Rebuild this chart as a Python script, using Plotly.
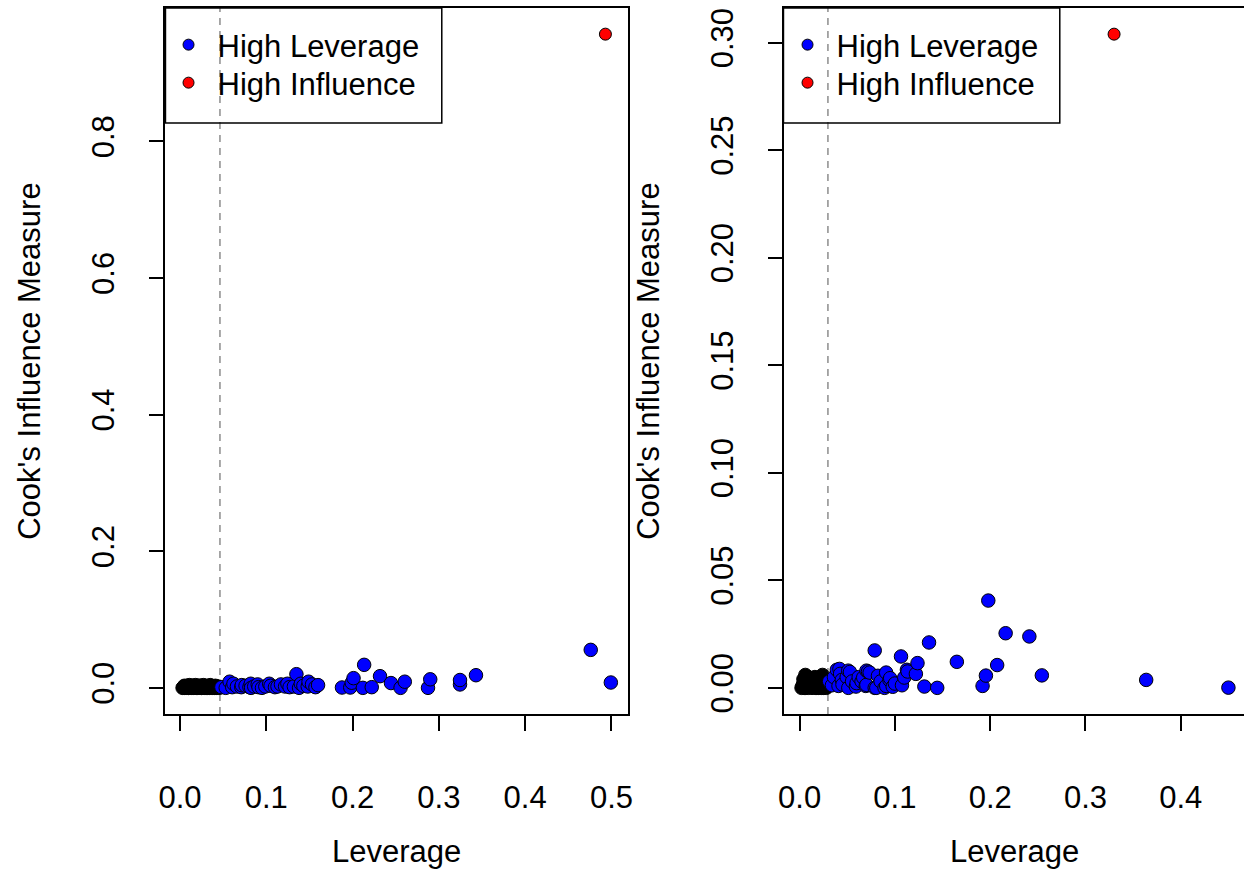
import plotly.graph_objects as go

# ---------------- data: panel 1 ----------------
p1_black_lev = [0.003, 0.004, 0.005, 0.006, 0.007, 0.008, 0.009, 0.010, 0.011, 0.012,
                0.013, 0.014, 0.015, 0.016, 0.017, 0.018, 0.019, 0.020, 0.021, 0.022,
                0.023, 0.024, 0.025, 0.026, 0.027, 0.028, 0.029, 0.030, 0.031, 0.032,
                0.033, 0.034, 0.035, 0.036, 0.037, 0.038, 0.039, 0.040, 0.041, 0.042,
                0.043, 0.044, 0.045, 0.005, 0.008, 0.012, 0.015, 0.018, 0.022, 0.025,
                0.028, 0.032, 0.035, 0.038, 0.041, 0.010, 0.020, 0.030]
p1_black_cook = [0.000, 0.001, 0.000, 0.002, 0.000, 0.003, 0.001, 0.000, 0.004, 0.001,
                 0.000, 0.002, 0.003, 0.000, 0.001, 0.004, 0.000, 0.002, 0.001, 0.000,
                 0.003, 0.001, 0.000, 0.002, 0.004, 0.000, 0.001, 0.003, 0.000, 0.002,
                 0.001, 0.000, 0.004, 0.001, 0.000, 0.002, 0.001, 0.000, 0.003, 0.000,
                 0.001, 0.002, 0.000, 0.003, 0.000, 0.002, 0.000, 0.001, 0.003, 0.000,
                 0.002, 0.000, 0.001, 0.000, 0.001, 0.000, 0.000, 0.000]
p1_blue_lev = [0.048, 0.053, 0.0575, 0.0605, 0.062, 0.066, 0.071, 0.0716, 0.076, 0.0805,
               0.082, 0.0824, 0.086, 0.090, 0.091, 0.095, 0.0989, 0.1034, 0.105, 0.110,
               0.113, 0.117, 0.1218, 0.1245, 0.127, 0.132, 0.1349, 0.138, 0.140, 0.143,
               0.148, 0.149, 0.153, 0.157, 0.160, 0.1877, 0.1973, 0.199, 0.2011, 0.2119,
               0.2134, 0.2222, 0.2318, 0.2445, 0.2556, 0.2605, 0.2874, 0.290, 0.3245, 0.3245,
               0.343, 0.476, 0.4993]
p1_blue_cook = [0.001, 0.000, 0.009, 0.001, 0.006, 0.002, 0.001, 0.004, 0.003, 0.001,
                0.006, 0.000, 0.002, 0.005, 0.001, 0.000, 0.002, 0.006, 0.003, 0.001,
                0.002, 0.005, 0.002, 0.006, 0.001, 0.002, 0.020, 0.000, 0.006, 0.003,
                0.002, 0.009, 0.005, 0.001, 0.004, 0.0005, 0.0005, 0.0075, 0.0142, 0.000,
                0.0337, 0.001, 0.0171, 0.007, 0.000, 0.009, 0.000, 0.0125, 0.005, 0.0115,
                0.0185, 0.0556, 0.0078]
p1_red_lev = [0.493]
p1_red_cook = [0.957]
p1_cutoff = 0.0463

# ---------------- data: panel 2 ----------------
p2_black_lev = [0.002, 0.003, 0.004, 0.005, 0.006, 0.007, 0.008, 0.009, 0.010, 0.011,
                0.012, 0.013, 0.014, 0.015, 0.016, 0.017, 0.018, 0.019, 0.020, 0.021,
                0.022, 0.023, 0.024, 0.025, 0.026, 0.027, 0.028, 0.004, 0.006, 0.009,
                0.012, 0.015, 0.018, 0.021, 0.024, 0.027, 0.005, 0.016, 0.023]
p2_black_cook = [0.000, 0.001, 0.002, 0.000, 0.006, 0.001, 0.003, 0.000, 0.002, 0.001,
                 0.004, 0.000, 0.002, 0.001, 0.005, 0.000, 0.003, 0.001, 0.000, 0.002,
                 0.004, 0.001, 0.006, 0.000, 0.002, 0.001, 0.000, 0.004, 0.000, 0.005,
                 0.001, 0.003, 0.000, 0.004, 0.002, 0.003, 0.003, 0.002, 0.000]
p2_blue_lev = [0.031, 0.0339, 0.036, 0.039, 0.0408, 0.0418, 0.0425, 0.0443, 0.045, 0.0494,
               0.051, 0.0511, 0.0528, 0.055, 0.0591, 0.0598, 0.062, 0.065, 0.0667, 0.0694,
               0.0701, 0.0701, 0.0718, 0.0735, 0.0788, 0.0788, 0.0805, 0.0822, 0.085, 0.0891,
               0.0908, 0.0909, 0.0943, 0.095, 0.0977, 0.100, 0.1064, 0.1074, 0.1098, 0.1126,
               0.1133, 0.122, 0.1237, 0.1309, 0.1358, 0.1444, 0.165, 0.192, 0.1955, 0.198,
               0.2073, 0.2162, 0.2411, 0.2542, 0.3637, 0.450]
p2_blue_cook = [0.003, 0.0012, 0.005, 0.0084, 0.0009, 0.0088, 0.0065, 0.0037, 0.0015, 0.005,
                0.008, 0.000, 0.0074, 0.003, 0.0006, 0.0022, 0.005, 0.003, 0.0048, 0.0009,
                0.0014, 0.008, 0.0076, 0.0071, 0.0174, 0.000, 0.000, 0.0056, 0.003, 0.000,
                0.0071, 0.0009, 0.0036, 0.0045, 0.0005, 0.002, 0.0146, 0.0012, 0.0048, 0.0084,
                0.0076, 0.0065, 0.0115, 0.0006, 0.0211, 0.000, 0.0121, 0.0009, 0.0057, 0.0406,
                0.0106, 0.0254, 0.0239, 0.0058, 0.0037, 0.0001]
p2_red_lev = [0.330]
p2_red_cook = [0.304]
p2_cutoff = 0.0297

# ---------------- axes ticks / labels ----------------
p1_xticks = [0.0, 0.1, 0.2, 0.3, 0.4, 0.5]
p1_yticks = [0.0, 0.2, 0.4, 0.6, 0.8]
p2_xticks = [0.0, 0.1, 0.2, 0.3, 0.4]
p2_yticks = [0.00, 0.05, 0.10, 0.15, 0.20, 0.25, 0.30]
x_title = "Leverage"
y_title = "Cook's Influence Measure"
legend_labels = ["High Leverage", "High Influence"]
legend_colors = ["blue", "red"]

# ---------------- layout geometry (pixels) ----------------
W, H = 1249, 871
FONT = "Liberation Sans, Arial, Helvetica, sans-serif"
FS = 31
p1_box = (160, 627)
p2_box = (785, 1249)
box_top, box_bottom = 8, 714
legend_row_centres = [47, 85]


def px_x(p):
    return p / W


def px_y(p):
    return (H - p) / H


fig = go.Figure()

MS = 13.5
edge = dict(color="black", width=1)
legend_ids = {("x", 0): "legend", ("x", 1): "legend3",
              ("x2", 0): "legend2", ("x2", 1): "legend4"}


def add_panel(xa, ya, blx, bly, bux, buy, rx, ry):
    fig.add_trace(go.Scatter(x=blx, y=bly, mode="markers", xaxis=xa, yaxis=ya,
                             marker=dict(size=MS, color="black", line=edge),
                             showlegend=False, hoverinfo="skip"))
    fig.add_trace(go.Scatter(x=bux, y=buy, mode="markers", xaxis=xa, yaxis=ya,
                             marker=dict(size=MS, color="blue", line=edge),
                             showlegend=False))
    fig.add_trace(go.Scatter(x=rx, y=ry, mode="markers", xaxis=xa, yaxis=ya,
                             marker=dict(size=12, color="red", line=edge),
                             showlegend=False))
    for i, (lab, col) in enumerate(zip(legend_labels, legend_colors)):
        fig.add_trace(go.Scatter(x=[None], y=[None], mode="markers", xaxis=xa, yaxis=ya,
                                 name=lab, legend=legend_ids[(xa, i)],
                                 marker=dict(size=11, color=col, line=edge)))


add_panel("x", "y", p1_black_lev, p1_black_cook, p1_blue_lev, p1_blue_cook,
          p1_red_lev, p1_red_cook)
add_panel("x2", "y2", p2_black_lev, p2_black_cook, p2_blue_lev, p2_blue_cook,
          p2_red_lev, p2_red_cook)

# cutoff lines
for xa, yd, cut in [("x", "y domain", p1_cutoff), ("x2", "y2 domain", p2_cutoff)]:
    fig.add_shape(type="line", xref=xa, yref=yd, x0=cut, x1=cut, y0=0, y1=1, layer="below",
                  line=dict(color="#8c8c8c", width=1.5, dash="7px,6px"))


# axis ranges following R's 4% extension
def ext(lo, hi):
    r = hi - lo
    return [lo - 0.04 * r, hi + 0.04 * r]


p1_xr = ext(min(p1_black_lev), max(p1_blue_lev))
p1_yr = ext(0.0, max(p1_red_cook))
p2_xr_full = ext(min(p2_black_lev), max(p2_blue_lev))
# the right panel is cut at the window edge
p2_xr = [p2_xr_full[0],
         p2_xr_full[0] + (p2_xr_full[1] - p2_xr_full[0]) * (p2_box[1] - p2_box[0]) / (1250.5 - p2_box[0])]
p2_yr = ext(0.0, max(p2_red_cook))

common_axis = dict(showline=True, linecolor="black", linewidth=1.5, ticks="outside",
                   ticklen=15, tickwidth=1.5, tickcolor="black", showgrid=False,
                   zeroline=False, tickfont=dict(family=FONT, size=FS, color="black"))

legend_common = dict(xanchor="left", yanchor="top", bgcolor="rgba(0,0,0,0)", borderwidth=0,
                     itemwidth=48, font=dict(family=FONT, size=FS, color="black"))

fig.update_layout(
    width=W, height=H,
    margin=dict(l=0, r=0, t=0, b=0),
    paper_bgcolor="white", plot_bgcolor="white",
    font=dict(family=FONT, size=FS, color="black"),
    xaxis=dict(domain=[px_x(p1_box[0]), px_x(p1_box[1])], range=p1_xr, mirror=True,
               tickvals=p1_xticks, ticktext=[f"{v:.1f}" for v in p1_xticks],
               ticklabelstandoff=40, anchor="y", **common_axis),
    yaxis=dict(domain=[px_y(box_bottom), px_y(box_top)], range=p1_yr, mirror=True,
               tickvals=p1_yticks, ticktext=[f"{v:.1f}" for v in p1_yticks],
               tickangle=-90, ticklabelstandoff=22, anchor="x", **common_axis),
    xaxis2=dict(domain=[px_x(p2_box[0]), 1.0], range=p2_xr, mirror=True,
                tickvals=p2_xticks, ticktext=[f"{v:.1f}" for v in p2_xticks],
                ticklabelstandoff=40, anchor="y2", **common_axis),
    yaxis2=dict(domain=[px_y(box_bottom), px_y(box_top)], range=p2_yr, mirror=False,
                tickvals=p2_yticks, ticktext=[f"{v:.2f}" for v in p2_yticks],
                tickangle=-90, ticklabelstandoff=22, anchor="x2", **common_axis),
    legend=dict(x=px_x(p1_box[0] - 6), y=px_y(legend_row_centres[0] - 29), **legend_common),
    legend3=dict(x=px_x(p1_box[0] - 6), y=px_y(legend_row_centres[1] - 29), **legend_common),
    legend2=dict(x=px_x(p2_box[0] - 6), y=px_y(legend_row_centres[0] - 29), **legend_common),
    legend4=dict(x=px_x(p2_box[0] - 6), y=px_y(legend_row_centres[1] - 29), **legend_common),
    hovermode="closest",
)

# legend frames
for x0, x1 in [(160, 439), (784, 1063)]:
    fig.add_shape(type="rect", xref="paper", yref="paper",
                  x0=px_x(x0), x1=px_x(x1), y0=px_y(123), y1=px_y(box_top),
                  line=dict(color="black", width=1.5), fillcolor="rgba(0,0,0,0)", layer="above")

# axis titles
for cx in [(p1_box[0] + p1_box[1]) / 2, (p2_box[0] + 1250) / 2]:
    fig.add_annotation(text=x_title, xref="paper", yref="paper", x=px_x(cx), y=px_y(851),
                       showarrow=False, xanchor="center", yanchor="middle",
                       font=dict(family=FONT, size=FS, color="black"))
for cx in [22, 647]:
    fig.add_annotation(text=y_title, xref="paper", yref="paper", x=px_x(cx),
                       y=px_y((box_top + box_bottom) / 2), textangle=-90,
                       showarrow=False, xanchor="center", yanchor="middle",
                       font=dict(family=FONT, size=FS, color="black"))

fig.write_html("out.html", config={"displayModeBar": False})

# remove the browser's default page margin so the figure fills the window exactly
with open("out.html", "r", encoding="utf-8") as f:
    html = f.read()
html = html.replace("<body>", '<body style="margin:0;padding:0;overflow:hidden;">', 1)
with open("out.html", "w", encoding="utf-8") as f:
    f.write(html)
